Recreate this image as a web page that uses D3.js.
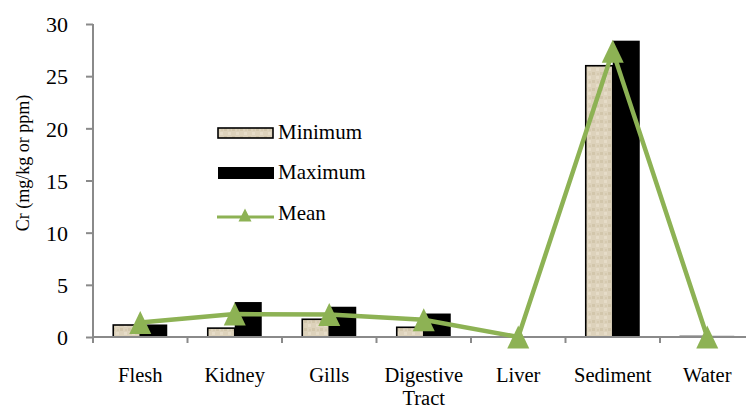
<!DOCTYPE html>
<html><head><meta charset="utf-8">
<script src="https://cdn.jsdelivr.net/npm/d3@7"></script>
<style>body{margin:0;background:#fff}svg{display:block}</style>
</head><body><svg id="c" width="746" height="409"></svg>
<script>
const categories = ["Flesh","Kidney","Gills","Digestive Tract","Liver","Sediment","Water"];
const minimum = [1.15, 0.85, 1.7, 0.93, 0, 26.0, 0.08];
const maximum = [1.2, 3.35, 2.9, 2.25, 0, 28.4, 0.12];
const mean = [1.4, 2.2, 2.15, 1.65, 0, 27.4, 0];
const yTicks = [0,5,10,15,20,25,30];
const seriesNames = ["Minimum","Maximum","Mean"];

const FONT = '"Liberation Serif", "Times New Roman", serif';
const svg = d3.select("#c");
const x = d3.scaleBand().domain(categories).range([93, 754.5]).paddingInner(0).paddingOuter(0);
const y = d3.scaleLinear().domain([0,30]).range([337, 24]);
const bw = 27;
const axisColor = "#8a8a8a";
const green = "#8db254";
const cx = d => x(d) + x.bandwidth()/2;

// texture for minimum bars
const defs = svg.append("defs");
const pat = defs.append("pattern").attr("id","tex").attr("patternUnits","userSpaceOnUse")
  .attr("width",8).attr("height",8);
pat.append("rect").attr("width",8).attr("height",8).attr("fill","#ddd2bb");
pat.append("rect").attr("x",0).attr("y",0).attr("width",3).attr("height",3).attr("fill","#d2c6ab");
pat.append("rect").attr("x",4).attr("y",4).attr("width",3).attr("height",3).attr("fill","#e6dcc8");
pat.append("rect").attr("x",5).attr("y",1).attr("width",2).attr("height",2).attr("fill","#d6cab0");

// bars
const g = svg.append("g");
g.selectAll("rect.min").data(categories).join("rect")
  .attr("x", d => cx(d) - bw)
  .attr("y", (d,i) => y(minimum[i]))
  .attr("width", bw)
  .attr("height", (d,i) => y(0) - y(minimum[i]))
  .attr("fill", "url(#tex)")
  .attr("stroke", (d,i)=> minimum[i] > 0.2 ? "#000" : "#888")
  .attr("stroke-width", 1.6);
g.selectAll("rect.max").data(categories).join("rect")
  .attr("x", d => cx(d))
  .attr("y", (d,i) => y(maximum[i]))
  .attr("width", bw)
  .attr("height", (d,i) => y(0) - y(maximum[i]))
  .attr("fill", (d,i)=> maximum[i] > 0.2 ? "#000" : "#888");

// axes
const yAxis = svg.append("g").attr("transform","translate(93,0)")
  .call(d3.axisLeft(y).tickValues(yTicks).tickSize(7).tickPadding(18).tickFormat(d3.format("d")));
yAxis.select(".domain").attr("stroke", axisColor).attr("stroke-width",2).attr("d","M0,24V343");
yAxis.selectAll(".tick line").attr("stroke", axisColor).attr("stroke-width",2);
yAxis.selectAll(".tick text").attr("font-size", 22).style("font-family",FONT).attr("fill","#000").attr("dy","0.35em");

const xAxis = svg.append("g").attr("transform","translate(0,337)");
xAxis.append("line").attr("x1",93).attr("x2",754).attr("y1",0).attr("y2",0).attr("stroke",axisColor).attr("stroke-width",2);
xAxis.selectAll("line.t").data(categories.slice(1)).join("line")
  .attr("x1", d => x(d)).attr("x2", d => x(d)).attr("y1",0).attr("y2",6)
  .attr("stroke",axisColor).attr("stroke-width",2);
const labels = xAxis.selectAll("text.cat").data(categories).join("text")
  .attr("x", d => cx(d))
  .attr("y", 45)
  .attr("text-anchor","middle").attr("font-size",20.5).style("font-family",FONT).attr("fill","#000");
labels.each(function(d){
  const parts = d === "Digestive Tract" ? ["Digestive","Tract"] : [d];
  const t = d3.select(this);
  parts.forEach((p,i)=> t.append("tspan").attr("x", cx(d)).attr("dy", i? 23 : 0).text(p));
});

// y title
svg.append("text").attr("transform","translate(29,163) rotate(-90)")
  .attr("text-anchor","middle").attr("font-size",18).style("font-family",FONT).text("Cr (mg/kg or ppm)");

// mean line
const line = d3.line().x((d,i)=> cx(categories[i])).y(d => y(d));
svg.append("path").datum(mean).attr("d", line).attr("fill","none")
  .attr("stroke",green).attr("stroke-width",4.5).attr("stroke-linejoin","miter");
const triPath = (w,h) => `M0,${-h/2}L${w/2},${h/2}L${-w/2},${h/2}Z`;
svg.selectAll("path.m").data(mean).join("path")
  .attr("transform",(d,i)=>`translate(${cx(categories[i])},${y(d)})`)
  .attr("d", triPath(22,23)).attr("fill", green);

// legend
const lg = svg.append("g");
lg.append("rect").attr("x",218).attr("y",128).attr("width",55).attr("height",10)
  .attr("fill","url(#tex)").attr("stroke","#000").attr("stroke-width",1.6);
lg.append("rect").attr("x",218).attr("y",167).attr("width",56).attr("height",12).attr("fill","#000");
lg.append("line").attr("x1",217).attr("x2",274).attr("y1",217).attr("y2",217).attr("stroke",green).attr("stroke-width",3);
lg.append("path").attr("transform","translate(245,215)").attr("d", triPath(13,13)).attr("fill",green);
const ly = [139, 179, 220];
seriesNames.forEach((n,i)=> lg.append("text").attr("x",278).attr("y",ly[i]).attr("font-size",21).style("font-family",FONT).attr("fill","#000").text(n));
</script></body></html>
